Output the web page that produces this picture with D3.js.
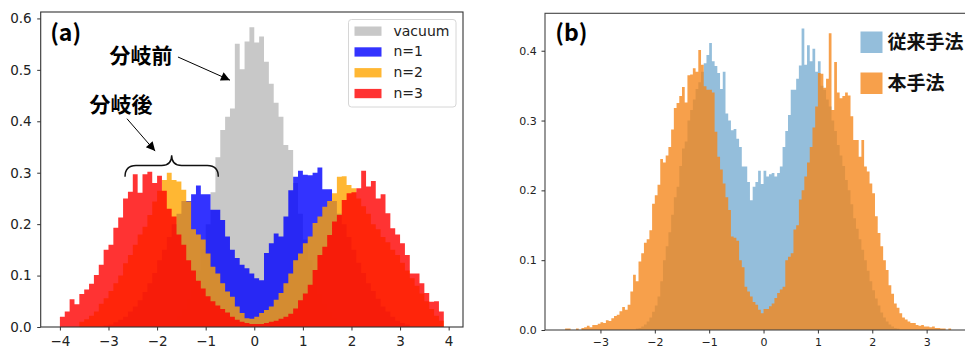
<!DOCTYPE html>
<html>
<head>
<meta charset="utf-8">
<script src="https://cdn.jsdelivr.net/npm/d3@7"></script>
<style>
  body { margin: 0; background: #fff; }
  svg { display: block; font-family: "DejaVu Sans", sans-serif; }
</style>
</head>
<body>
<svg id="chart" width="965" height="348"></svg>
<script>
// ---- panel (a): histograms, bins of 0.1 starting at -4.0 ----
const binStartA = -4.0, binWidthA = 0.1;

const vacuum = [
  0, 0, 0, 0, 0, 0, 0, 0, 0, 0,
  0, 0, 0, 0, 0, 0, 0, 0, 0, 0,
  0.002, 0.004, 0.007, 0.013, 0.022, 0.035, 0.055, 0.080, 0.110, 0.150,
  0.200, 0.262, 0.330, 0.383, 0.409, 0.425, 0.551, 0.501, 0.555, 0.583,
  0.553, 0.565, 0.516, 0.473, 0.436, 0.409, 0.354, 0.344, 0.280, 0.220,
  0.170, 0.130, 0.095, 0.065, 0.045, 0.030, 0.018, 0.010, 0.006, 0.003,
  0, 0, 0, 0, 0, 0, 0, 0, 0, 0,
  0, 0, 0, 0, 0, 0, 0, 0, 0, 0
];
const n1 = [
  0, 0, 0, 0, 0, 0, 0, 0, 0, 0.003,
  0.005, 0.009, 0.014, 0.020, 0.030, 0.040, 0.052, 0.068, 0.085, 0.105,
  0.130, 0.150, 0.175, 0.200, 0.220, 0.245, 0.245, 0.258, 0.275, 0.258,
  0.258, 0.228, 0.228, 0.208, 0.176, 0.150, 0.134, 0.121, 0.114, 0.104,
  0.095, 0.091, 0.144, 0.163, 0.182, 0.176, 0.215, 0.266, 0.292, 0.304,
  0.296, 0.295, 0.300, 0.310, 0.268, 0.268, 0.245, 0.220, 0.200, 0.175,
  0.150, 0.125, 0.105, 0.085, 0.070, 0.055, 0.040, 0.030, 0.020, 0.012,
  0.008, 0.005, 0, 0, 0, 0, 0, 0, 0, 0
];
const n2 = [
  0, 0, 0, 0, 0.010, 0.015, 0.022, 0.030, 0.045, 0.056,
  0.070, 0.085, 0.100, 0.124, 0.140, 0.160, 0.180, 0.195, 0.218, 0.244,
  0.265, 0.286, 0.300, 0.286, 0.283, 0.267, 0.244, 0.190, 0.180, 0.170,
  0.143, 0.117, 0.104, 0.085, 0.069, 0.059, 0.040, 0.027, 0.017, 0.016,
  0.020, 0.027, 0.033, 0.040, 0.053, 0.066, 0.085, 0.104, 0.130, 0.143,
  0.163, 0.176, 0.202, 0.215, 0.234, 0.245, 0.260, 0.292, 0.293, 0.276,
  0.270, 0.250, 0.235, 0.220, 0.200, 0.190, 0.175, 0.165, 0.150, 0.140,
  0.125, 0.110, 0.095, 0.080, 0.065, 0.050, 0.035, 0.022, 0.012, 0
];
const n3 = [
  0.020, 0.030, 0.054, 0.044, 0.064, 0.073, 0.084, 0.101, 0.121, 0.150,
  0.160, 0.193, 0.213, 0.250, 0.263, 0.297, 0.261, 0.297, 0.302, 0.280,
  0.294, 0.265, 0.230, 0.215, 0.180, 0.160, 0.130, 0.110, 0.090, 0.075,
  0.060, 0.050, 0.042, 0.035, 0.028, 0.020, 0.014, 0.010, 0.008, 0.006,
  0.006, 0.006, 0.008, 0.010, 0.012, 0.016, 0.020, 0.026, 0.036, 0.052,
  0.065, 0.082, 0.111, 0.140, 0.156, 0.179, 0.205, 0.218, 0.247, 0.260,
  0.262, 0.270, 0.304, 0.273, 0.284, 0.250, 0.258, 0.221, 0.192, 0.180,
  0.163, 0.140, 0.104, 0.104, 0.085, 0.066, 0.049, 0.050, 0.030, 0
];
const seriesA = ['vacuum', 'n=1', 'n=2', 'n=3'];
const ticksXA = [-4, -3, -2, -1, 0, 1, 2, 3, 4];
const ticksYA = [0, 0.1, 0.2, 0.3, 0.4, 0.5, 0.6];

// ---- panel (b): histograms, bins of 0.05 starting at -3.65 ----
const binStartB = -3.65, binWidthB = 0.05;

const conventional = [ // 従来手法
  0, 0, 0, 0, 0, 0, 0, 0, 0, 0,
  0, 0, 0, 0, 0, 0, 0, 0, 0, 0,
  0, 0, 0, 0, 0, 0, 0.002, 0.003, 0.005, 0.008,
  0.012, 0.018, 0.026, 0.035, 0.048, 0.070, 0.100, 0.120, 0.140, 0.165,
  0.190, 0.205, 0.235, 0.260, 0.270, 0.300, 0.315, 0.330, 0.345, 0.355,
  0.370, 0.382, 0.394, 0.411, 0.385, 0.378, 0.368, 0.345, 0.370, 0.310,
  0.300, 0.286, 0.288, 0.274, 0.262, 0.234, 0.234, 0.212, 0.186, 0.205,
  0.212, 0.228, 0.209, 0.228, 0.220, 0.223, 0.225, 0.220, 0.225, 0.234,
  0.262, 0.285, 0.308, 0.344, 0.344, 0.360, 0.379, 0.432, 0.380, 0.408,
  0.385, 0.403, 0.370, 0.385, 0.350, 0.344, 0.330, 0.320, 0.300, 0.285,
  0.265, 0.250, 0.235, 0.215, 0.200, 0.180, 0.160, 0.145, 0.130, 0.115,
  0.100, 0.085, 0.070, 0.057, 0.045, 0.035, 0.025, 0.018, 0.012, 0.008,
  0.005, 0.003, 0.002, 0, 0, 0, 0, 0, 0, 0,
  0, 0, 0, 0, 0, 0, 0, 0, 0, 0,
  0, 0, 0
];
const proposed = [ // 本手法
  0.002, 0.002, 0.000, 0.000, 0.002, 0.000, 0.003, 0.004, 0.006, 0.004,
  0.007, 0.007, 0.009, 0.011, 0.010, 0.014, 0.013, 0.017, 0.020, 0.022,
  0.027, 0.033, 0.029, 0.036, 0.055, 0.079, 0.070, 0.098, 0.110, 0.125,
  0.130, 0.143, 0.181, 0.193, 0.208, 0.245, 0.240, 0.250, 0.262, 0.287,
  0.318, 0.325, 0.335, 0.348, 0.326, 0.365, 0.366, 0.375, 0.370, 0.401,
  0.380, 0.349, 0.344, 0.344, 0.340, 0.284, 0.248, 0.230, 0.210, 0.190,
  0.172, 0.134, 0.132, 0.128, 0.100, 0.090, 0.062, 0.055, 0.048, 0.040,
  0.036, 0.029, 0.024, 0.030, 0.030, 0.034, 0.038, 0.046, 0.053, 0.058,
  0.062, 0.100, 0.105, 0.110, 0.144, 0.150, 0.187, 0.200, 0.220, 0.240,
  0.262, 0.290, 0.320, 0.368, 0.367, 0.347, 0.360, 0.425, 0.315, 0.384,
  0.340, 0.332, 0.335, 0.340, 0.336, 0.306, 0.272, 0.272, 0.248, 0.272,
  0.234, 0.227, 0.210, 0.196, 0.163, 0.139, 0.120, 0.100, 0.086, 0.064,
  0.052, 0.038, 0.032, 0.024, 0.018, 0.015, 0.012, 0.010, 0.010, 0.007,
  0.006, 0.007, 0.005, 0.005, 0.004, 0.005, 0.003, 0.003, 0.002, 0.002,
  0.000, 0.002, 0.000
];
const seriesB = ['従来手法', '本手法'];
const ticksXB = [-3, -2, -1, 0, 1, 2, 3];
const ticksYB = [0, 0.1, 0.2, 0.3, 0.4];

const svg = d3.select('#chart');

// draws one histogram as a single stepped area
function drawHist(g, x, y, start, width, values, fill, opacity) {
  const pts = values.map((v, i) => [start + i * width, v]);
  pts.push([start + values.length * width, values[values.length - 1]]);
  const area = d3.area()
    .x(d => x(d[0]))
    .y0(y(0))
    .y1(d => y(d[1]))
    .curve(d3.curveStepAfter);
  g.append('path')
    .attr('d', area(pts))
    .attr('fill', fill)
    .attr('fill-opacity', opacity);
}

function drawAxes(g, x, y, xt, yt, fontSize, padX, padY) {
  const [y0, y1] = y.range();
  g.append('g')
    .attr('transform', `translate(0,${y0})`)
    .call(d3.axisBottom(x).tickValues(xt).tickSize(3.5).tickPadding(padX)
      .tickFormat(d3.format('d')))
    .call(a => a.select('.domain').remove());
  g.append('g')
    .attr('transform', `translate(${x.range()[0]},0)`)
    .call(d3.axisLeft(y).tickValues(yt).tickSize(3.5).tickPadding(padY)
      .tickFormat(d3.format('.1f')))
    .call(a => a.select('.domain').remove());
  g.selectAll('.tick text')
    .attr('font-family', '"DejaVu Sans", sans-serif')
    .attr('font-size', fontSize)
    .attr('fill', '#222');
  g.selectAll('.tick line').attr('stroke', '#333');
}

// ================= panel (a) =================
const xA = d3.scaleLinear().domain([-4.395, 4.295]).range([40.7, 463]);
const yA = d3.scaleLinear().domain([0, 0.6125]).range([327, 12]);
const gA = svg.append('g');

drawHist(gA, xA, yA, binStartA, binWidthA, vacuum, '#c8c8c8', 1);
drawHist(gA, xA, yA, binStartA, binWidthA, n1, 'blue', 0.8);
drawHist(gA, xA, yA, binStartA, binWidthA, n2, 'orange', 0.8);
drawHist(gA, xA, yA, binStartA, binWidthA, n3, 'red', 0.8);

gA.append('rect')
  .attr('x', xA.range()[0]).attr('y', yA.range()[1])
  .attr('width', xA.range()[1] - xA.range()[0])
  .attr('height', yA.range()[0] - yA.range()[1])
  .attr('fill', 'none').attr('stroke', '#333').attr('stroke-width', 1.1);

drawAxes(gA, xA, yA, ticksXA, ticksYA, '13.5px', 6, 5.5);

// legend (a)
const colorsA = ['#c8c8c8', 'blue', 'orange', 'red'];
const opacA = [1, 0.8, 0.8, 0.8];
const legA = gA.append('g').attr('transform', 'translate(348.5,19.5)');
legA.append('rect')
  .attr('width', 107.5).attr('height', 87.5).attr('rx', 3)
  .attr('fill', '#fff').attr('stroke', '#d6d6d6');
seriesA.forEach((name, i) => {
  const row = legA.append('g').attr('transform', `translate(0,${i * 20.8})`);
  row.append('rect')
    .attr('x', 6).attr('y', 7).attr('width', 27).attr('height', 9.3)
    .attr('fill', colorsA[i]).attr('fill-opacity', opacA[i]);
  row.append('text')
    .attr('x', 45).attr('y', 16)
    .attr('font-size', '14px').attr('fill', '#222')
    .text(name);
});

// annotations (a)
svg.append('defs').append('marker')
  .attr('id', 'head').attr('viewBox', '0 0 10 10')
  .attr('refX', 10).attr('refY', 5)
  .attr('markerWidth', 12).attr('markerHeight', 9)
  .attr('markerUnits', 'userSpaceOnUse')
  .attr('orient', 'auto')
  .append('path').attr('d', 'M0,0 L10,5 L0,10 Z').attr('fill', '#000');

const cjk = '"Noto Sans CJK JP", "Noto Sans CJK SC", sans-serif';
gA.append('text')
  .attr('x', xA(-4.2)).attr('y', 41)
  .attr('font-family', cjk).attr('font-weight', 700).attr('font-size', '23px')
  .text('(a)');

gA.append('text')
  .attr('x', xA(-2.98)).attr('y', yA(0.513))
  .attr('font-family', cjk).attr('font-weight', 700).attr('font-size', '21px')
  .text('分岐前');
gA.append('line')
  .attr('x1', xA(-1.57)).attr('y1', yA(0.525))
  .attr('x2', xA(-0.5)).attr('y2', yA(0.48))
  .attr('stroke', '#000').attr('stroke-width', 1)
  .attr('marker-end', 'url(#head)');

gA.append('text')
  .attr('x', xA(-3.39)).attr('y', yA(0.418))
  .attr('font-family', cjk).attr('font-weight', 700).attr('font-size', '21px')
  .text('分岐後');
gA.append('line')
  .attr('x1', xA(-2.62)).attr('y1', yA(0.405))
  .attr('x2', xA(-2.04)).attr('y2', yA(0.342))
  .attr('stroke', '#000').attr('stroke-width', 1)
  .attr('marker-end', 'url(#head)');

// curly brace over the split peaks
{
  const bx0 = xA(-2.66), bx1 = xA(-0.74), bm = xA(-1.7);
  const yb = yA(0.314), ye = yA(0.292), yt = yA(0.334);
  const p = d3.path();
  p.moveTo(bx0, ye);
  p.quadraticCurveTo(bx0, yb, bx0 + 11, yb);
  p.lineTo(bm - 10, yb);
  p.quadraticCurveTo(bm, yb, bm, yt);
  p.quadraticCurveTo(bm, yb, bm + 10, yb);
  p.lineTo(bx1 - 11, yb);
  p.quadraticCurveTo(bx1, yb, bx1, ye);
  gA.append('path').attr('d', p.toString())
    .attr('fill', 'none').attr('stroke', '#111').attr('stroke-width', 1.4);
}

// ================= panel (b) =================
const xB = d3.scaleLinear().domain([-4.02, 4.0]).range([545, 981]);
const yB = d3.scaleLinear().domain([0, 0.4536]).range([330, 13.3]);
const gB = svg.append('g');

drawHist(gB, xB, yB, binStartB, binWidthB, conventional, '#1f77b4', 0.48);
drawHist(gB, xB, yB, binStartB, binWidthB, proposed, '#f58518', 0.78);

gB.append('rect')
  .attr('x', xB.range()[0]).attr('y', yB.range()[1])
  .attr('width', xB.range()[1] - xB.range()[0])
  .attr('height', yB.range()[0] - yB.range()[1])
  .attr('fill', 'none').attr('stroke', '#444').attr('stroke-width', 1.1);

drawAxes(gB, xB, yB, ticksXB, ticksYB, '11px', 5, 4.8);

gB.append('text')
  .attr('x', xB(-3.83)).attr('y', 41)
  .attr('font-family', cjk).attr('font-weight', 700).attr('font-size', '23px')
  .text('(b)');

// legend (b)
const colorsB = ['#1f77b4', '#f58518'];
const opacB = [0.48, 0.78];
seriesB.forEach((name, i) => {
  const row = gB.append('g').attr('transform', `translate(860.5,${31.5 + i * 41})`);
  row.append('rect')
    .attr('width', 22).attr('height', 21.5)
    .attr('fill', colorsB[i]).attr('fill-opacity', opacB[i]);
  row.append('text')
    .attr('x', 27).attr('y', 17.5)
    .attr('font-family', cjk).attr('font-weight', 700).attr('font-size', '19px')
    .attr('fill', '#111')
    .text(name);
});
</script>
</body>
</html>
